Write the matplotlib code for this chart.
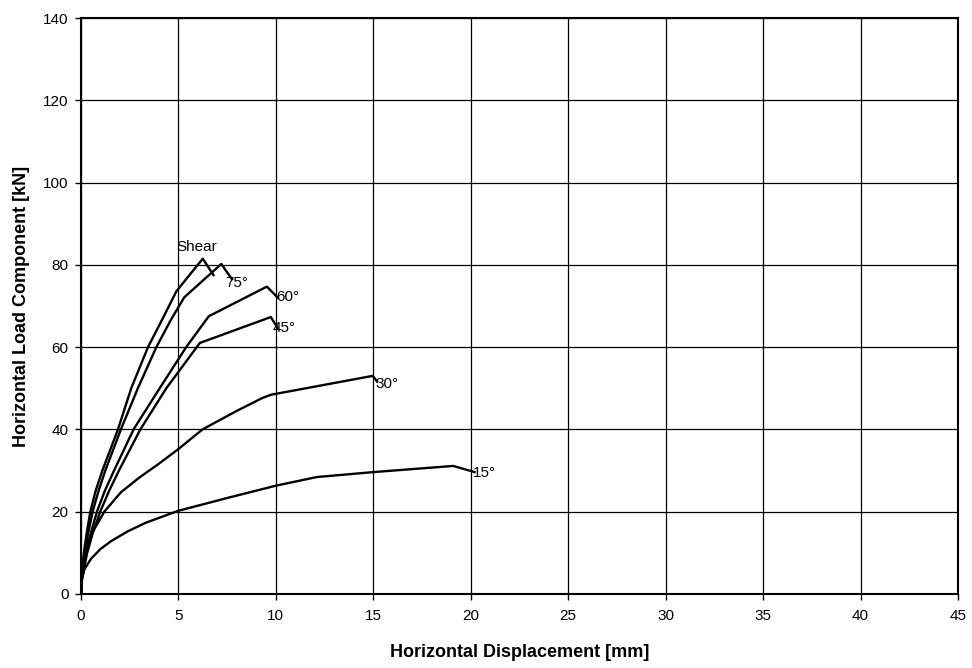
import matplotlib.pyplot as plt

plt.rcParams['font.family'] = ['Liberation Sans', 'DejaVu Sans']

# curve data (displacement mm, load kN)
shear_x = [0, 0.03, 0.15, 0.3, 0.48, 0.75, 1.1, 1.9, 2.58, 3.44, 4.2, 4.9, 6.25, 6.8]
shear_y = [0, 4, 10, 15, 20, 25, 30, 40, 50, 60, 67, 73.6, 81.5, 77.5]

deg75_x = [0, 0.04, 0.2, 0.38, 0.6, 0.9, 1.25, 2.05, 2.92, 3.87, 4.6, 5.3, 7.2, 7.75]
deg75_y = [0, 4, 10, 15, 20, 25, 30, 40, 50, 60, 66.5, 72.1, 80.2, 76.5]

deg60_x = [0, 0.05, 0.28, 0.52, 0.82, 1.22, 1.7, 2.7, 4.04, 5.4, 6.56, 9.54, 10.1]
deg60_y = [0, 4, 10, 15, 20, 25, 30, 40, 50, 60, 67.5, 74.7, 72.0]

deg45_x = [0, 0.06, 0.32, 0.62, 0.99, 1.44, 1.95, 3.05, 4.38, 6.1, 9.74, 10.1]
deg45_y = [0, 4, 10, 15, 20, 25, 30, 40, 50, 61, 67.3, 64.6]

deg30_x = [0, 0.05, 0.17, 0.51, 1.2, 2.05, 3.0, 3.93, 5.0, 6.24, 8.0, 9.3, 9.74, 14.97, 15.2]
deg30_y = [0, 5, 9.5, 14.3, 20, 24.7, 28.3, 31.4, 35.2, 40, 44.5, 47.6, 48.4, 53.0, 51.6]

deg15_x = [0, 0.05, 0.17, 0.51, 1.0, 1.54, 2.4, 3.33, 5.0, 7.5, 10.0, 12.1, 15.0, 19.1, 20.2]
deg15_y = [0, 3.5, 5.9, 8.5, 10.9, 12.8, 15.2, 17.3, 20.2, 23.3, 26.3, 28.4, 29.6, 31.1, 29.6]

curves = [(shear_x, shear_y), (deg75_x, deg75_y), (deg60_x, deg60_y),
          (deg45_x, deg45_y), (deg30_x, deg30_y), (deg15_x, deg15_y)]

label_text = ['Shear', '75°', '60°', '45°', '30°', '15°']
label_x = [5.95, 7.4, 10.0, 9.85, 15.1, 20.1]
label_y = [84.4, 75.6, 72.2, 64.6, 51.0, 29.5]
label_ha = ['center', 'left', 'left', 'left', 'left', 'left']

fig = plt.figure(figsize=(9.72, 6.68), dpi=100)
ax = fig.add_axes([0.0833, 0.111, 0.9023, 0.862])

for xs, ys in curves:
    ax.plot(xs, ys, color='black', linewidth=1.7, solid_joinstyle='round')

for t, x, y, ha in zip(label_text, label_x, label_y, label_ha):
    ax.text(x, y, t, ha=ha, va='center', fontsize=11)

ax.set_xlim(0, 45)
ax.set_ylim(0, 140)
ax.set_xticks(range(0, 46, 5))
ax.set_yticks(range(0, 141, 20))
ax.grid(True, color='black', linewidth=0.9)
ax.tick_params(direction='out', length=4, width=1, labelsize=11, pad=5)
ax.tick_params(axis='x', pad=7)
for s in ax.spines.values():
    s.set_linewidth(1.5)

ax.set_xlabel('Horizontal Displacement [mm]', fontsize=13, fontweight='bold', labelpad=15)
ax.set_ylabel('Horizontal Load Component [kN]', fontsize=13, fontweight='bold', labelpad=9)

fig.savefig('out.png', dpi=100)
